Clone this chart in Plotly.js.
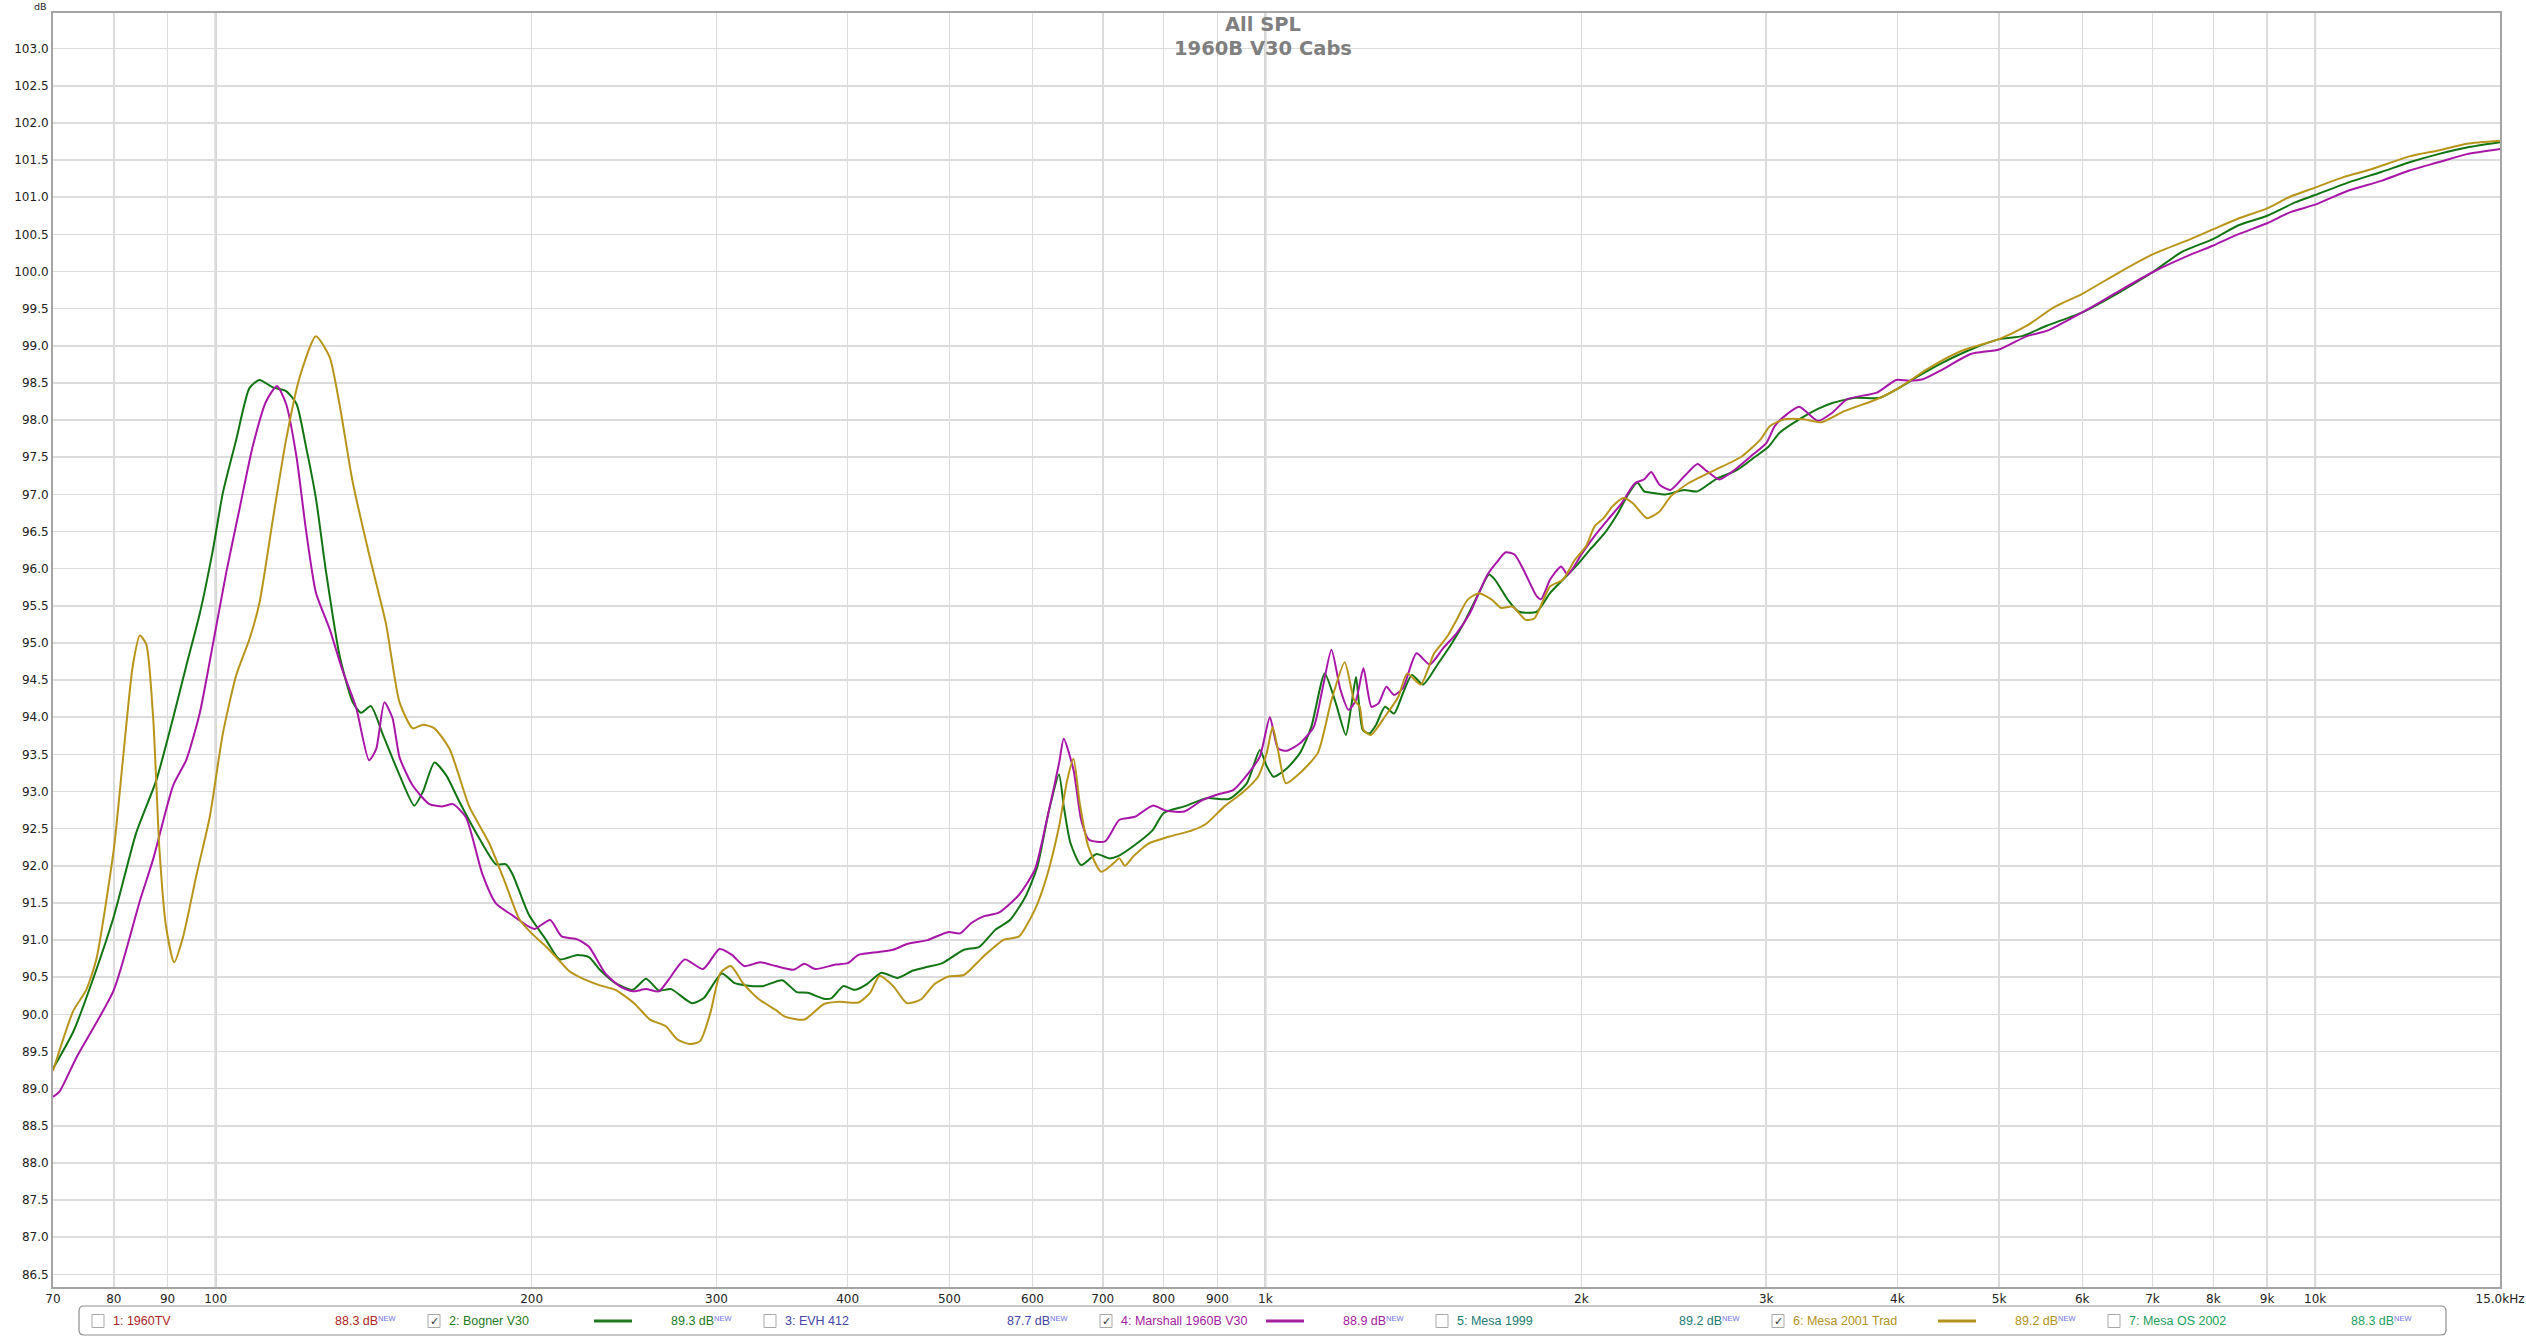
<!DOCTYPE html>
<html>
<head>
<meta charset="utf-8">
<script src="https://cdn.plot.ly/plotly-3.0.1.min.js"></script>
<style>
  html, body { margin: 0; padding: 0; background: #ffffff; }
  #chart { width: 2526px; height: 1337px; }
</style>
</head>
<body>
<div id="chart"></div>
<script>
// ---------------- DATA ----------------
const titleLines = ['All SPL', '1960B V30 Cabs'];

const xTickVals = [70, 80, 90, 100, 200, 300, 400, 500, 600, 700, 800, 900, 1000,
  2000, 3000, 4000, 5000, 6000, 7000, 8000, 9000, 10000, 15000];
const xTickText = ['70', '80', '90', '100', '200', '300', '400', '500', '600', '700', '800', '900', '1k',
  '2k', '3k', '4k', '5k', '6k', '7k', '8k', '9k', '10k', '15.0kHz'];
const majorGridFreqs = [100, 1000, 10000];

// 2: Bogner V30
const freqBogner = [70, 73.2, 76.4, 80, 84, 87.8, 91.1, 93.8, 96.6, 99.4, 101.6, 104.6, 107.7, 110.1, 113.4,
  116.7, 119.4, 121.9, 124.6, 127.4, 131.2, 135.1, 137.6, 140.6, 144.2, 149.7, 154.6, 157.6, 161.6, 165.8,
  170.6, 178.3, 185, 189.1, 191.9, 198.8, 206.5, 212.7, 221.1, 226.8, 232.3, 240.4, 249.6, 257.1, 264.4,
  271.5, 284.4, 291.8, 303.5, 312.2, 320.3, 331.8, 346.5, 357.8, 366.5, 379.8, 386.3, 396.2, 406.3, 416.6,
  430.8, 446.3, 461.7, 476.7, 492.5, 516.2, 534.1, 553.1, 571.1, 591.1, 606.5, 622.2, 636, 642.6, 652,
  667.6, 690.4, 710.2, 723.8, 751, 781, 800, 837, 879, 923, 960, 988, 1003, 1018, 1048, 1079, 1106, 1139,
  1167, 1193, 1207, 1220, 1238, 1256, 1275, 1300, 1326, 1352, 1379, 1413, 1462, 1506, 1551, 1597, 1633,
  1655, 1702, 1744, 1813, 1867, 1920, 1979, 2039, 2100, 2163, 2216, 2261, 2295, 2340, 2409, 2505, 2580,
  2683, 2815, 2930, 3015, 3089, 3225, 3360, 3468, 3650, 3850, 4000, 4187, 4413, 4698, 5000, 5260, 5550,
  6000, 6509, 7000, 7458, 8000, 8442, 9000, 9570, 10000, 10760, 11560, 12300, 13100, 13950, 15000];
const dbBogner = [89.27, 89.77, 90.47, 91.32, 92.44, 93.15, 93.99, 94.7, 95.4, 96.25, 97.02, 97.73, 98.43, 98.54, 98.44,
  98.39, 98.22, 97.65, 96.95, 95.96, 94.84, 94.2, 94.06, 94.15, 93.78, 93.22, 92.81, 93.0, 93.39, 93.22,
  92.87, 92.37, 92.02, 92.02, 91.88, 91.34, 91.0, 90.74, 90.8, 90.77, 90.6, 90.42, 90.33, 90.48, 90.32,
  90.34, 90.15, 90.22, 90.55, 90.42, 90.39, 90.38, 90.46, 90.3, 90.29, 90.21, 90.22, 90.38, 90.33, 90.4,
  90.56, 90.49, 90.59, 90.64, 90.69, 90.87, 90.91, 91.14, 91.27, 91.59, 91.99, 92.75, 93.23, 92.8, 92.31,
  92.01, 92.16, 92.1, 92.13, 92.28, 92.48, 92.71, 92.8, 92.91, 92.9, 93.11, 93.56, 93.34, 93.2, 93.31, 93.52, 93.87, 94.59,
  94.19, 93.76, 94.14, 94.54, 93.83, 93.78, 93.9, 94.14, 94.05, 94.32, 94.57, 94.44, 94.73, 95.0, 95.31, 95.67, 95.92,
  95.85, 95.58, 95.42, 95.42, 95.67, 95.85, 96.04, 96.26, 96.46, 96.73, 97.0, 97.16, 97.04, 97.02, 97.0, 97.06, 97.04,
  97.2, 97.33, 97.51, 97.64, 97.83, 98.01, 98.15, 98.23, 98.3, 98.3, 98.42, 98.59, 98.77, 98.95, 99.09, 99.13, 99.27,
  99.45, 99.72, 99.99, 100.26, 100.44, 100.62, 100.75, 100.93, 101.03, 101.2, 101.34, 101.47, 101.58, 101.67, 101.74];

// 4: Marshall 1960B V30
const freqMarshall = [70, 71, 73.7, 80, 84.7, 87.2, 91.1, 93.8, 96.6, 99.4, 102.4, 105.4, 108.5, 111.7, 114.4,
  116.7, 119.4, 121.9, 124.6, 128.4, 132.1, 136.1, 140, 142.2, 144.8, 147.4, 149.7, 154.1, 159.8, 164.6,
  168.3, 173.2, 179.6, 185, 191.9, 198.8, 201.4, 208.3, 213.6, 221.1, 226.8, 234.9, 242.5, 249.6, 257.1,
  264.4, 270.2, 279.8, 291.3, 302, 310.4, 318.8, 330.1, 341.6, 355.3, 363.8, 372.5, 389.6, 400.2, 409.6,
  428.1, 442.1, 456.5, 476.7, 499, 511.8, 524.7, 538.8, 557.3, 582.6, 603.2, 619.2, 636, 642.6, 656.5,
  667.6, 679.3, 703.6, 726, 751, 781, 805, 837, 870, 905, 932, 964, 988, 1010, 1028, 1048, 1079, 1112,
  1133, 1156, 1179, 1200, 1220, 1240, 1262, 1282, 1304, 1326, 1352, 1393, 1434, 1477, 1521, 1566, 1597,
  1628, 1660, 1694, 1727, 1761, 1813, 1831, 1867, 1913, 1941, 2000, 2059, 2120, 2184, 2249, 2294, 2331,
  2374, 2432, 2505, 2580, 2630, 2706, 2787, 2899, 3000, 3057, 3140, 3225, 3360, 3468, 3580, 3823, 3990,
  4100, 4230, 4413, 4698, 5000, 5314, 5550, 6000, 6509, 7000, 7618, 8000, 8442, 9000, 9475, 10000, 10760,
  11560, 12300, 13100, 13950, 15000];
const dbMarshall = [88.89, 88.96, 89.42, 90.33, 91.53, 92.09, 93.08, 93.43, 94.06, 94.98, 95.96, 96.81, 97.65, 98.25, 98.46,
  98.22, 97.51, 96.53, 95.68, 95.19, 94.63, 94.13, 93.42, 93.57, 94.2, 93.99, 93.46, 93.08, 92.83, 92.8,
  92.83, 92.65, 91.88, 91.49, 91.33, 91.18, 91.15, 91.27, 91.05, 91.01, 90.91, 90.56, 90.38, 90.31, 90.34,
  90.31, 90.47, 90.74, 90.61, 90.88, 90.8, 90.65, 90.7, 90.65, 90.6, 90.68, 90.61, 90.67, 90.69, 90.8,
  90.84, 90.87, 90.95, 91.0, 91.11, 91.09, 91.23, 91.32, 91.37, 91.61, 91.95, 92.62, 93.38, 93.71, 93.29,
  92.62, 92.35, 92.33, 92.62, 92.66, 92.81, 92.74, 92.73, 92.88, 92.97, 93.02, 93.25, 93.47, 94.0, 93.58, 93.55, 93.65, 93.87,
  94.37, 94.91, 94.37, 94.1, 94.23, 94.66, 94.14, 94.19, 94.41, 94.3, 94.39, 94.86, 94.71, 94.93, 95.13, 95.4, 95.67,
  95.92, 96.08, 96.22, 96.19, 95.99, 95.63, 95.59, 95.85, 96.03, 95.92, 96.19, 96.44, 96.66, 96.88, 97.15, 97.2, 97.3,
  97.13, 97.06, 97.24, 97.41, 97.32, 97.2, 97.31, 97.51, 97.69, 97.92, 98.08, 98.18, 97.99, 98.1, 98.28, 98.37, 98.54,
  98.53, 98.55, 98.68, 98.89, 98.95, 99.13, 99.2, 99.45, 99.74, 99.99, 100.23, 100.35, 100.5, 100.65, 100.8, 100.9, 101.09,
  101.22, 101.36, 101.47, 101.58, 101.65];

// 6: Mesa 2001 Trad
const freqMesa = [70, 73.2, 75.3, 77, 80, 81.6, 83.4, 84.7, 85.9, 87.2, 88.4, 89.7, 91.3, 93.1, 95.9, 98.7,
  101.6, 104.6, 107.7, 110.1, 113.4, 116.7, 120.2, 124.6, 128.4, 131.2, 135.1, 140.1, 145.3, 149.7, 154.1,
  157.6, 161.6, 167.1, 174.4, 182.3, 189.1, 194.7, 200, 206.5, 213.6, 217.3, 224.6, 232.3, 240.4, 250.4,
  259.3, 268.4, 275.5, 283, 289.4, 296, 302.7, 309.6, 318, 329.5, 341.6, 348.6, 363.8, 379.8, 392.8, 409.6,
  420.2, 429.1, 442.1, 455.6, 469.6, 484, 499, 516.2, 538.8, 562.7, 582.6, 603.2, 619.2, 636, 647.6, 656.5,
  665.6, 678.1, 697.5, 717.6, 726, 735, 749, 774, 809, 853, 879, 914, 950, 984, 1003, 1016, 1028, 1046,
  1079, 1122, 1156, 1190, 1215, 1230, 1240, 1260, 1300, 1339, 1365, 1406, 1448, 1491, 1521, 1558, 1597,
  1644, 1677, 1719, 1770, 1804, 1867, 1920, 1972, 2020, 2059, 2100, 2142, 2195, 2239, 2310, 2374, 2432,
  2529, 2683, 2843, 2963, 3025, 3123, 3258, 3385, 3560, 3823, 4000, 4274, 4601, 5000, 5314, 5641, 6000,
  6509, 7000, 7618, 8000, 8442, 9000, 9475, 10000, 10640, 11330, 12300, 13100, 13950, 15000];
const dbMesa = [89.24, 90.05, 90.33, 90.75, 92.23, 93.43, 94.7, 95.1, 94.98, 93.99, 92.23, 91.18, 90.7, 91.04, 91.88, 92.65,
  93.78, 94.56, 95.05, 95.54, 96.67, 97.73, 98.57, 99.13, 98.85, 98.22, 97.16, 96.18, 95.26, 94.2, 93.85,
  93.9, 93.85, 93.57, 92.8, 92.3, 91.74, 91.28, 91.09, 90.91, 90.69, 90.58, 90.47, 90.39, 90.33, 90.15,
  89.93, 89.84, 89.66, 89.6, 89.64, 90.02, 90.56, 90.65, 90.42, 90.2, 90.06, 89.97, 89.93, 90.14, 90.17, 90.16,
  90.29, 90.52, 90.38, 90.15, 90.2, 90.41, 90.51, 90.53, 90.78, 91.0, 91.05, 91.41, 91.86, 92.53, 93.16, 93.44,
  92.84, 92.26, 91.92, 92.04, 92.1, 92.0, 92.13, 92.3, 92.39, 92.48, 92.57, 92.8, 92.98, 93.2, 93.52, 93.87, 93.56, 93.11,
  93.25, 93.52, 94.23, 94.74, 94.23, 94.14, 93.83, 93.76, 94.01, 94.28, 94.59, 94.44, 94.86, 95.09, 95.31, 95.58, 95.67,
  95.58, 95.47, 95.49, 95.31, 95.33, 95.76, 95.85, 96.12, 96.3, 96.57, 96.68, 96.84, 96.95, 96.88, 96.68, 96.77, 96.97,
  97.15, 97.33, 97.51, 97.74, 97.92, 98.01, 98.01, 97.97, 98.12, 98.28, 98.42, 98.69, 98.93, 99.09, 99.27, 99.52, 99.7,
  99.99, 100.23, 100.44, 100.57, 100.71, 100.85, 101.01, 101.13, 101.27, 101.38, 101.55, 101.63, 101.72, 101.76];

// Legend bar entries
const legendNames = ['1: 1960TV', '2: Bogner V30', '3: EVH 412', '4: Marshall 1960B V30', '5: Mesa 1999', '6: Mesa 2001 Trad', '7: Mesa OS 2002'];
const legendLevels = ['88.3 dB', '89.3 dB', '87.7 dB', '88.9 dB', '89.2 dB', '89.2 dB', '88.3 dB'];
const legendChecked = [false, true, false, true, false, true, false];
const legendColors = ['#ad2424', '#1f7a1f', '#4545a8', '#a3219f', '#1d7a74', '#b3911e', '#25a05c'];

const curveColors = { bogner: '#127412', marshall: '#a816a8', mesa: '#b8951a' };

// ---------------- LAYOUT HELPERS ----------------
const W = 2526, H = 1337;
const M = { l: 53, r: 26, t: 13, b: 50 };
const PW = W - M.l - M.r, PH = H - M.t - M.b;
const XMIN = Math.log10(70), XMAX = Math.log10(15000);
const px = v => (v - M.l) / PW;            // pixel x -> paper
const py = v => (H - M.b - v) / PH;        // pixel y -> paper
const fx = f => (Math.log10(f) - XMIN) / (XMAX - XMIN);

const traces = [
  { x: freqBogner, y: dbBogner, name: '2: Bogner V30', type: 'scatter', mode: 'lines',
    line: { color: curveColors.bogner, width: 2, shape: 'spline', smoothing: 0.6 }, hoverinfo: 'x+y' },
  { x: freqMarshall, y: dbMarshall, name: '4: Marshall 1960B V30', type: 'scatter', mode: 'lines',
    line: { color: curveColors.marshall, width: 2, shape: 'spline', smoothing: 0.6 }, hoverinfo: 'x+y' },
  { x: freqMesa, y: dbMesa, name: '6: Mesa 2001 Trad', type: 'scatter', mode: 'lines',
    line: { color: curveColors.mesa, width: 2, shape: 'spline', smoothing: 0.6 }, hoverinfo: 'x+y' }
];

const shapes = [];
const annotations = [];

// darker decade grid lines
majorGridFreqs.forEach(f => {
  shapes.push({ type: 'line', xref: 'paper', yref: 'paper', x0: fx(f), x1: fx(f), y0: 0, y1: 1,
    line: { color: '#bcbcbc', width: 2 }, layer: 'below' });
});

// title
annotations.push({ text: titleLines[0], xref: 'paper', yref: 'paper', x: px(1263), y: py(25),
  xanchor: 'center', yanchor: 'middle', showarrow: false,
  font: { family: 'DejaVu Sans', size: 19.5, color: '#7f7f7f', weight: 'bold' } });
annotations.push({ text: titleLines[1], xref: 'paper', yref: 'paper', x: px(1263), y: py(48),
  xanchor: 'center', yanchor: 'middle', showarrow: false,
  font: { family: 'DejaVu Sans', size: 19.5, color: '#7f7f7f', weight: 'bold' } });

// dB unit label
annotations.push({ text: 'dB', xref: 'paper', yref: 'paper', x: px(40), y: py(6),
  xanchor: 'center', yanchor: 'middle', showarrow: false,
  font: { family: 'DejaVu Sans', size: 9.5, color: '#222' } });

// legend box (rounded)
(function () {
  const x0 = 79, x1 = 2446, y0 = 1306, y1 = 1335, r = 5;
  const X = v => px(v), Y = v => py(v);
  const path = `M ${X(x0 + r)} ${Y(y0)} L ${X(x1 - r)} ${Y(y0)} Q ${X(x1)} ${Y(y0)} ${X(x1)} ${Y(y0 + r)} ` +
    `L ${X(x1)} ${Y(y1 - r)} Q ${X(x1)} ${Y(y1)} ${X(x1 - r)} ${Y(y1)} L ${X(x0 + r)} ${Y(y1)} ` +
    `Q ${X(x0)} ${Y(y1)} ${X(x0)} ${Y(y1 - r)} L ${X(x0)} ${Y(y0 + r)} Q ${X(x0)} ${Y(y0)} ${X(x0 + r)} ${Y(y0)} Z`;
  shapes.push({ type: 'path', xref: 'paper', yref: 'paper', path: path,
    line: { color: '#8e8e8e', width: 1.2 }, fillcolor: 'rgba(0,0,0,0)' });
})();

const entryStep = 336, entryX0 = 92, rowY = 1321;
legendNames.forEach((name, i) => {
  const bx = entryX0 + i * entryStep;
  // checkbox
  shapes.push({ type: 'rect', xref: 'paper', yref: 'paper', x0: px(bx), x1: px(bx + 12),
    y0: py(rowY - 6.5), y1: py(rowY + 6.5), line: { color: '#a8a8a8', width: 1 }, fillcolor: '#ffffff' });
  if (legendChecked[i]) {
    annotations.push({ text: '✓', xref: 'paper', yref: 'paper', x: px(bx + 6), y: py(rowY),
      xanchor: 'center', yanchor: 'middle', showarrow: false,
      font: { family: 'DejaVu Sans', size: 11, color: '#333' } });
    shapes.push({ type: 'line', xref: 'paper', yref: 'paper', x0: px(bx + 166), x1: px(bx + 204),
      y0: py(rowY), y1: py(rowY), line: { color: legendColors[i], width: 3 } });
  }
  annotations.push({ text: name, xref: 'paper', yref: 'paper', x: px(bx + 19), y: py(rowY),
    xanchor: 'left', yanchor: 'middle', showarrow: false,
    font: { family: 'Liberation Sans, Arial, sans-serif', size: 12.5, color: legendColors[i] } });
  annotations.push({ text: legendLevels[i], xref: 'paper', yref: 'paper', x: px(bx + 241), y: py(rowY),
    xanchor: 'left', yanchor: 'middle', showarrow: false,
    font: { family: 'Liberation Sans, Arial, sans-serif', size: 12.5, color: legendColors[i] } });
  annotations.push({ text: 'NEW', xref: 'paper', yref: 'paper', x: px(bx + 284), y: py(rowY - 3),
    xanchor: 'left', yanchor: 'middle', showarrow: false,
    font: { family: 'Liberation Sans, Arial, sans-serif', size: 7.5, color: '#7272e8' } });
});

const layout = {
  width: W, height: H,
  margin: M,
  paper_bgcolor: '#ffffff', plot_bgcolor: '#ffffff',
  showlegend: false,
  xaxis: {
    type: 'log', range: [XMIN, XMAX], tickmode: 'array', tickvals: xTickVals, ticktext: xTickText,
    showgrid: true, gridcolor: '#dcdcdc', gridwidth: 1.5, zeroline: false,
    showline: true, linecolor: '#a4a4a4', linewidth: 2, mirror: true,
    ticks: '', tickfont: { family: 'DejaVu Sans', size: 12, color: '#222' }, automargin: false
  },
  yaxis: {
    range: [86.33, 103.48], tickmode: 'linear', tick0: 86.5, dtick: 0.5, tickformat: '.1f',
    showgrid: true, gridcolor: '#dcdcdc', gridwidth: 1.5, zeroline: false,
    showline: true, linecolor: '#a4a4a4', linewidth: 2, mirror: true,
    ticks: '', tickfont: { family: 'DejaVu Sans', size: 12, color: '#222' }, automargin: false
  },
  shapes: shapes,
  annotations: annotations
};

Plotly.newPlot('chart', traces, layout, { displayModeBar: false, staticPlot: true });
</script>
</body>
</html>
